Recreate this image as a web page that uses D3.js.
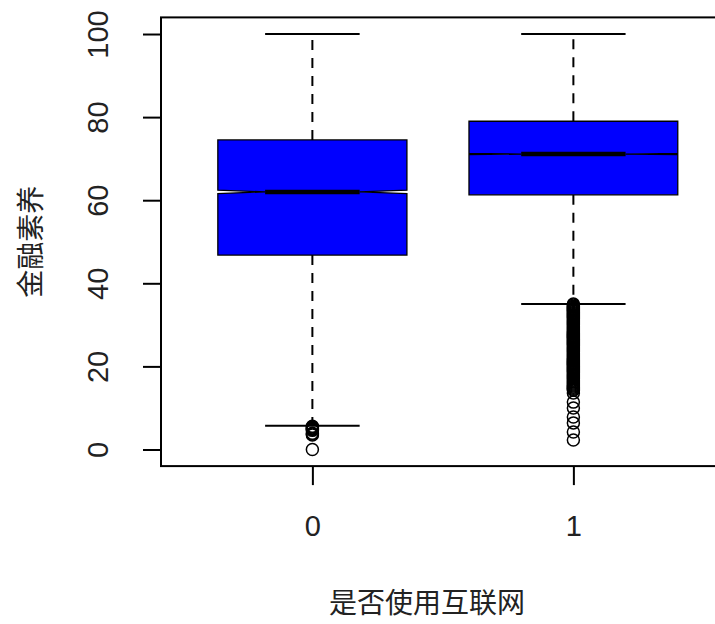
<!DOCTYPE html>
<html>
<head>
<meta charset="utf-8">
<script src="https://cdn.jsdelivr.net/npm/d3@7"></script>
<style>
  html, body { margin: 0; padding: 0; background: #fff; }
  svg { display: block; }
</style>
</head>
<body>
<svg id="chart" width="715" height="624"></svg>
<script>
// Box-plot summary per group (金融素养 by 是否使用互联网)
const categories   = ["0", "1"];
const whiskerLow   = [5.7, 35.0];
const quartile1    = [46.8, 61.3];
const medians      = [62.0, 71.1];
const quartile3    = [74.5, 79.0];
const whiskerHigh  = [100, 100];
const notchLow     = [61.6, 70.95];
const notchHigh    = [62.4, 71.25];
const groupCounts  = [4100, 5000];
const yTicks       = [0, 20, 40, 60, 80, 100];

// Values beyond the whiskers, per group
const outliers0 = [5.6, 5.4, 5.2, 5.0, 4.8, 4.6, 3.9, 3.7, 3.5, 0];
const outliers1 = [
  35.0, 34.75, 34.5, 34.25, 34.0, 33.75, 33.5, 33.25, 33.0, 32.75, 32.5, 32.25,
  32.0, 31.75, 31.5, 31.25, 31.0, 30.75, 30.5, 30.25, 30.0, 29.75, 29.5, 29.25,
  29.0, 28.75, 28.5, 28.25, 28.0, 27.75, 27.5, 27.25, 27.0, 26.75, 26.5, 26.25,
  26.0, 25.75, 25.5, 25.25, 25.0, 24.75, 24.5, 24.25, 24.0, 23.75, 23.5, 23.25,
  23.0, 22.75, 22.5, 22.25, 22.0, 21.75, 21.5, 21.25, 21.0, 20.75, 20.5, 20.25,
  20.0, 19.75, 19.5, 19.25, 19.0, 18.75, 18.5, 18.25, 18.0, 17.75, 17.5, 17.25,
  17.0, 16.75, 16.5, 16.25, 16.0, 15.75, 15.5, 15.25, 15.0, 14.75, 14.5, 14.25,
  13.6, 11.4, 10.0, 7.8, 6.4, 4.2, 2.3
];
const outlierSets = [outliers0, outliers1];

const xTitle = "是否使用互联网";
const yTitle = "金融素养";

const svg = d3.select("#chart");
const latin = "'Liberation Sans', Arial, sans-serif";
const cjk = "'Noto Sans CJK SC', 'Noto Sans', sans-serif";

// Scales: group positions 1..n, value axis padded 4% like R
const x = d3.scaleLinear().domain([0.42, 2.58]).range([161, 161 + 2.16 * 261]);
const y = d3.scaleLinear().domain([-4, 104]).range([466.1, 17.4]);

const maxSqrt = Math.sqrt(d3.max(groupCounts));
const halfW = groupCounts.map(n => 0.4 * Math.sqrt(n) / maxSqrt);

const groups = categories.map((c, i) => ({
  name: c, pos: i + 1,
  lo: whiskerLow[i], q1: quartile1[i], med: medians[i], q3: quartile3[i], hi: whiskerHigh[i],
  nLo: notchLow[i], nHi: notchHigh[i], hw: halfW[i], out: outlierSets[i]
}));

const g = svg.append("g");

// Whiskers (dashed)
groups.forEach(d => {
  g.append("line")
    .attr("x1", x(d.pos)).attr("x2", x(d.pos))
    .attr("y1", y(d.q3)).attr("y2", y(d.hi))
    .attr("stroke", "#000").attr("stroke-width", 2).attr("stroke-dasharray", "10,8");
  g.append("line")
    .attr("x1", x(d.pos)).attr("x2", x(d.pos))
    .attr("y1", y(d.q1)).attr("y2", y(d.lo))
    .attr("stroke", "#000").attr("stroke-width", 2).attr("stroke-dasharray", "10,8");
  // Staples
  [d.lo, d.hi].forEach(v => {
    g.append("line")
      .attr("x1", x(d.pos - d.hw / 2)).attr("x2", x(d.pos + d.hw / 2))
      .attr("y1", y(v)).attr("y2", y(v))
      .attr("stroke", "#000").attr("stroke-width", 2);
  });
});

// Notched boxes
groups.forEach(d => {
  const L = d.pos - d.hw, R = d.pos + d.hw, nf = 0.5;
  const pts = [
    [L, d.q1], [R, d.q1], [R, d.nLo], [d.pos + d.hw * nf, d.med], [R, d.nHi],
    [R, d.q3], [L, d.q3], [L, d.nHi], [d.pos - d.hw * nf, d.med], [L, d.nLo]
  ];
  g.append("path")
    .attr("d", d3.line().x(p => x(p[0])).y(p => y(p[1]))(pts) + "Z")
    .attr("fill", "#0000ff").attr("stroke", "#000").attr("stroke-width", 1.3)
    .attr("stroke-linejoin", "miter");
  // Median
  g.append("line")
    .attr("x1", x(d.pos - d.hw * nf)).attr("x2", x(d.pos + d.hw * nf))
    .attr("y1", y(d.med)).attr("y2", y(d.med))
    .attr("stroke", "#000").attr("stroke-width", 4.5);
});

// Outlier circles
groups.forEach(d => {
  g.selectAll(null).data(d.out).enter().append("circle")
    .attr("cx", x(d.pos)).attr("cy", v => y(v)).attr("r", 6)
    .attr("fill", "none").attr("stroke", "#000").attr("stroke-width", 1.5);
});

// Frame
const [fx0, fx1] = x.range(), [fy0, fy1] = y.range();
svg.append("rect")
  .attr("x", fx0).attr("y", fy1).attr("width", fx1 - fx0).attr("height", fy0 - fy1)
  .attr("fill", "none").attr("stroke", "#000").attr("stroke-width", 2);

// Y axis
const yAxis = svg.append("g").attr("transform", `translate(${fx0},0)`)
  .call(d3.axisLeft(y).tickValues(yTicks).tickSize(18).tickPadding(0).tickFormat(d3.format("d")));
yAxis.select(".domain").remove();
yAxis.selectAll(".tick line").attr("stroke", "#000").attr("stroke-width", 2);
yAxis.selectAll(".tick text")
  .attr("x", 0).attr("dy", 0)
  .attr("transform", "translate(-53,0) rotate(-90)")
  .attr("text-anchor", "middle")
  .style("font-family", latin).style("font-size", "29px").attr("fill", "#222");

// X axis
const xAxis = svg.append("g").attr("transform", `translate(0,${fy0})`)
  .call(d3.axisBottom(x).tickValues(groups.map(d => d.pos)).tickSize(19).tickPadding(0)
    .tickFormat((v, i) => categories[i]));
xAxis.select(".domain").remove();
xAxis.selectAll(".tick line").attr("stroke", "#000").attr("stroke-width", 2);
xAxis.selectAll(".tick text")
  .attr("y", 70).attr("dy", 0)
  .style("font-family", latin).style("font-size", "29px").attr("fill", "#222");

// Axis titles
svg.append("text")
  .attr("x", 427).attr("y", 613)
  .attr("text-anchor", "middle")
  .style("font-family", cjk).style("font-size", "28px").attr("fill", "#222")
  .text(xTitle);
svg.append("text")
  .attr("transform", `translate(41,${(fy0 + fy1) / 2}) rotate(-90)`)
  .attr("text-anchor", "middle")
  .style("font-family", cjk).style("font-size", "28px").attr("fill", "#222")
  .text(yTitle);
</script>
</body>
</html>
